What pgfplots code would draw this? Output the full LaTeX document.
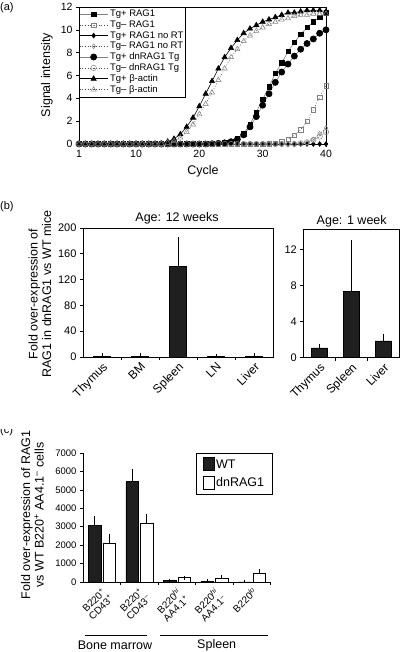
\documentclass[border=0pt]{standalone}
\usepackage{pgfplots}
\pgfplotsset{compat=1.18}
\usepackage{pgfplotstable}
\usepackage{fontspec}
\setmainfont{Liberation Sans}

\pgfplotsset{sq legend/.style={legend image code/.code={\draw[##1] (0pt,-6pt) rectangle (11pt,7pt);}}}

\pgfplotstableread{
c rp rm np nm dp dm bp bm
1 0 0 0 0 0 0 0 0
2 0 0 0 0 0 0 0 0
3 0 0 0 0 0 0 0 0
4 0 0 0 0 0 0 0 0
5 0 0 0 0 0 0 0 0
6 0 0 0 0 0 0 0 0
7 0 0 0 0 0 0 0 0
8 0 0 0 0 0 0 0 0
9 0 0 0 0 0 0 0 0
10 0 0 0 0 0 0 0 0
11 0 0 0 0 0 0 0 0
12 0 0 0 0 0 0 0 0
13 0 0 0 0 0 0 0.01 0
14 0 0 0 0 0 0 0.05 0.02
15 0 0 0 0 0 0 0.2 0.1
16 0 0 0 0 0 0 0.45 0.25
17 0 0 0 0 0 0 0.85 0.55
18 0 0 0 0 0 0 1.5 1.05
19 0 0 0 0 0 0 2.3 1.7
20 0 0 0 0 0 0 3.3 2.6
21 0 0 0 0 0 0 4.4 3.5
22 0.02 0 0 0 0.02 0 5.5 4.5
23 0.05 0 0 0 0.05 0 6.6 5.6
24 0.1 0 0 0 0.1 0 7.6 6.6
25 0.2 0 0 0 0.2 0 8.4 7.6
26 0.45 0 0 0 0.4 0 9.1 8.3
27 0.9 0 0 0 0.8 0 9.7 9.0
28 1.7 0 0 0 1.5 0 10.1 9.5
29 2.8 0 0 0 2.4 0 10.4 9.9
30 3.9 0 0 0 3.4 0 10.7 10.2
31 5.0 0.02 0 0 4.4 0 10.9 10.5
32 6.2 0.08 0 0 5.4 0 11.1 10.7
33 7.1 0.2 0 0 6.3 0 11.3 10.9
34 8.1 0.4 0 0 7.0 0 11.5 11.0
35 8.9 0.75 0 0 7.7 0 11.5 11.2
36 9.6 1.25 0 0 8.3 0.05 11.6 11.3
37 10.2 2.0 0 0.1 8.8 0.15 11.7 11.3
38 10.7 3.0 0 0.4 9.2 0.35 11.7 11.4
39 11.1 4.1 0 0.9 9.7 0.65 11.7 11.4
40 11.5 5.1 0 1.4 10.0 1.05 11.6 11.4
}\qpcr

\pgfplotstableread{
x v e
0 1.0 0.3
1 1.0 0.2
2 140 41
3 0.5 0.2
4 0.8 0.6
}\bleft

\pgfplotstableread{
x v e
0 1.1 0.23
1 7.38 5.4
2 1.85 0.55
}\bright

\pgfplotstableread{
x v e
0 3080 370
1 5450 600
2 70 0
3 40 0
4 0 0
}\cwt

\pgfplotstableread{
x v e
0 2120 400
1 3200 380
2 240 0
3 230 50
4 470 110
}\cdn

\begin{document}
\begin{tikzpicture}[x=1pt,y=1pt]
\path[use as bounding box] (0,0) rectangle (400,652);
\pgfplotsset{
  every axis/.append style={
    scale only axis,
    /pgf/number format/assume math mode=true,
    axis line style={black, line width=0.6pt},
    tick style={black, line width=0.6pt},
    major tick length=3pt,
    minor tick length=3pt,
    tick align=outside,
    tick pos=left,
  },
  cat axis/.style={
    major x tick style={draw=none},
    minor x tick style={black, line width=0.6pt},
    xticklabel style={rotate=45, anchor=north east, inner sep=1pt},
  },
}
\def\lab{\fontsize{12.5}{13.5}\selectfont}

%%%%%%%%%%%%%%%% Panel (a)
\node[anchor=west, inner sep=0, font=\fontsize{11}{12}\selectfont] at (0,644) {(a)};
\node[rotate=90, font=\lab] at (47,577) {Signal intensity};
\node[font=\lab] at (203,481) {Cycle};
\begin{axis}[
  at={(79pt,508pt)}, anchor=south west, width=247pt, height=137pt,
  xmin=1, xmax=40, ymin=0, ymax=12,
  xtick={1,10,20,30,40}, ytick={0,2,...,12},
  tick label style={font=\fontsize{10.5}{12}\selectfont},
  clip=false,
  legend style={at={(0,1)}, anchor=north west, draw=black, line width=0.6pt,
    font=\fontsize{9.5}{10}\selectfont, inner xsep=0pt, inner ysep=1pt,
    row sep=-1.5pt, fill=white},
  legend cell align=left,
  legend image code/.code={\draw[mark repeat=2,mark phase=2,#1] plot coordinates {(0pt,0pt) (14pt,0pt) (28pt,0pt)};},
]
\addplot[gray, line width=0.6pt, mark=square*, mark size=2.2pt, mark options={black, solid}] table[x=c,y=rp]{\qpcr};
\addlegendentry{Tg+ RAG1}
\addplot[black!70, dotted, line width=0.7pt, mark=square, mark size=2.2pt, mark options={gray, fill=white, solid, line width=0.5pt}] table[x=c,y=rm]{\qpcr};
\addlegendentry{Tg– RAG1}
\addplot[black, line width=0.6pt, mark=diamond*, mark size=2.4pt, mark options={black, solid}] table[x=c,y=np]{\qpcr};
\addlegendentry{Tg+ RAG1 no RT}
\addplot[black!70, dotted, line width=0.7pt, mark=diamond, mark size=2.4pt, mark options={gray, fill=white, solid, line width=0.5pt}] table[x=c,y=nm]{\qpcr};
\addlegendentry{Tg– RAG1 no RT}
\addplot[gray, line width=0.6pt, mark=*, mark size=3.1pt, mark options={black, solid}] table[x=c,y=dp]{\qpcr};
\addlegendentry{Tg+ dnRAG1 Tg}
\addplot[black!70, dotted, line width=0.7pt, mark=o, mark size=2.7pt, mark options={gray, fill=white, solid, line width=0.5pt}] table[x=c,y=dm]{\qpcr};
\addlegendentry{Tg– dnRAG1 Tg}
\addplot[black, line width=0.6pt, mark=triangle*, mark size=3pt, mark options={black, solid}] table[x=c,y=bp]{\qpcr};
\addlegendentry{Tg+ β-actin}
\addplot[black!70, dotted, line width=0.7pt, mark=triangle, mark size=3pt, mark options={gray, fill=white, solid, line width=0.5pt}] table[x=c,y=bm]{\qpcr};
\addlegendentry{Tg– β-actin}
\end{axis}

%%%%%%%%%%%%%%%% Panel (b)
\node[anchor=west, inner sep=0, font=\fontsize{11}{12}\selectfont] at (0,445) {(b)};
\node[rotate=90, font=\lab, align=center] at (40,358) {Fold over-expression of\\RAG1 in dnRAG1 vs WT mice};
\node[font=\lab] at (177,434) {Age: 12 weeks};
\node[font=\lab] at (351.7,431) {Age: 1 week};
\begin{axis}[
  cat axis,
  at={(83pt,295pt)}, anchor=south west, width=190pt, height=129pt,
  ymin=0, ymax=200, ytick={0,40,...,200},
  yticklabel style={font=\fontsize{11}{12}\selectfont},
  xmin=-0.5, xmax=4.5,
  xtick={0,1,2,3,4}, xticklabels={Thymus,BM,Spleen,LN,Liver},
  minor xtick={0.5,1.5,2.5,3.5},
  xticklabel style={font=\fontsize{12}{13}\selectfont},
  ybar, bar width=17pt,
]
\addplot[fill=black!88, draw=black, line width=0.5pt,
  error bars/.cd, y dir=plus, y explicit,
  error bar style={black, line width=0.5pt},
  error mark options={black, mark size=3pt, line width=0.5pt}]
  table[x=x, y=v, y error=e]{\bleft};
\end{axis}

\begin{axis}[
  cat axis,
  at={(303.3pt,294.3pt)}, anchor=south west, width=96pt, height=128.7pt,
  ymin=0, ymax=14.25, ytick={0,4,8,12},
  yticklabel style={font=\fontsize{11}{12}\selectfont},
  xmin=-0.5, xmax=2.5,
  xtick={0,1,2}, xticklabels={Thymus,Spleen,Liver},
  minor xtick={0.5,1.5},
  xticklabel style={font=\fontsize{12}{13}\selectfont},
  ybar, bar width=16.5pt,
]
\addplot[fill=black!88, draw=black, line width=0.5pt,
  error bars/.cd, y dir=plus, y explicit,
  error bar style={black, line width=0.5pt},
  error mark options={black, mark size=2pt, line width=0.5pt}]
  table[x=x, y=v, y error=e]{\bright};
\end{axis}

%%%%%%%%%%%%%%%% Panel (c)
\begin{scope}
\clip (0,0) rectangle (400,222);
\node[anchor=west, inner sep=0, font=\fontsize{11}{12}\selectfont] at (0,221) {(c)};
\node[rotate=90, font=\lab, align=center] at (32.5,137) {Fold over-expression of RAG1\\vs WT B220\textsuperscript{+} AA4.1\textsuperscript{–} cells};
\end{scope}
\begin{axis}[
  cat axis,
  at={(83pt,70pt)}, anchor=south west, width=187.5pt, height=129pt,
  axis x line*=bottom, axis y line*=left,
  ymin=0, ymax=7000, ytick={0,1000,...,7000},
  scaled y ticks=false,
  yticklabel style={/pgf/number format/1000 sep={}, font=\fontsize{9.5}{11}\selectfont},
  xmin=-0.5, xmax=4.5,
  xtick={0,1,2,3,4},
  xticklabels={{B220\textsuperscript{+}\\CD43\textsuperscript{+}},{B220\textsuperscript{+}\\CD43\textsuperscript{–}},{B220\textsuperscript{\itshape hi}\\AA4.1\textsuperscript{+}},{B220\textsuperscript{\itshape hi}\\AA4.1\textsuperscript{–}},{B220\textsuperscript{\itshape lo}}},
  minor xtick={0.5,1.5,2.5,3.5,4.5},
  xticklabel style={align=center, font=\fontsize{10}{10}\selectfont},
  ybar, bar width=12.5pt, bar shift auto,
  legend style={at={(1.01,1)}, anchor=north east, draw=black, line width=0.6pt,
    font=\fontsize{12.5}{13}\selectfont, inner xsep=6pt, inner ysep=4pt, row sep=4pt},
  legend cell align=left,
]
\addplot[fill=black!88, draw=black, line width=0.5pt, sq legend,
  error bars/.cd, y dir=plus, y explicit,
  error bar style={black, line width=0.5pt},
  error mark options={black, mark size=2pt, line width=0.5pt}]
  table[x=x, y=v, y error=e]{\cwt};
\addlegendentry{WT}
\addplot[fill=white, draw=black, line width=0.5pt, sq legend,
  error bars/.cd, y dir=plus, y explicit,
  error bar style={black, line width=0.5pt},
  error mark options={black, mark size=2pt, line width=0.5pt}]
  table[x=x, y=v, y error=e]{\cdn};
\addlegendentry{dnRAG1}
\end{axis}
\draw[line width=0.8pt] (85,17) -- (147.3,17);
\draw[line width=0.8pt] (160,17) -- (268,17);
\node[font=\lab] at (115,7) {Bone marrow};
\node[font=\lab] at (216.7,7) {Spleen};
\end{tikzpicture}
\end{document}
